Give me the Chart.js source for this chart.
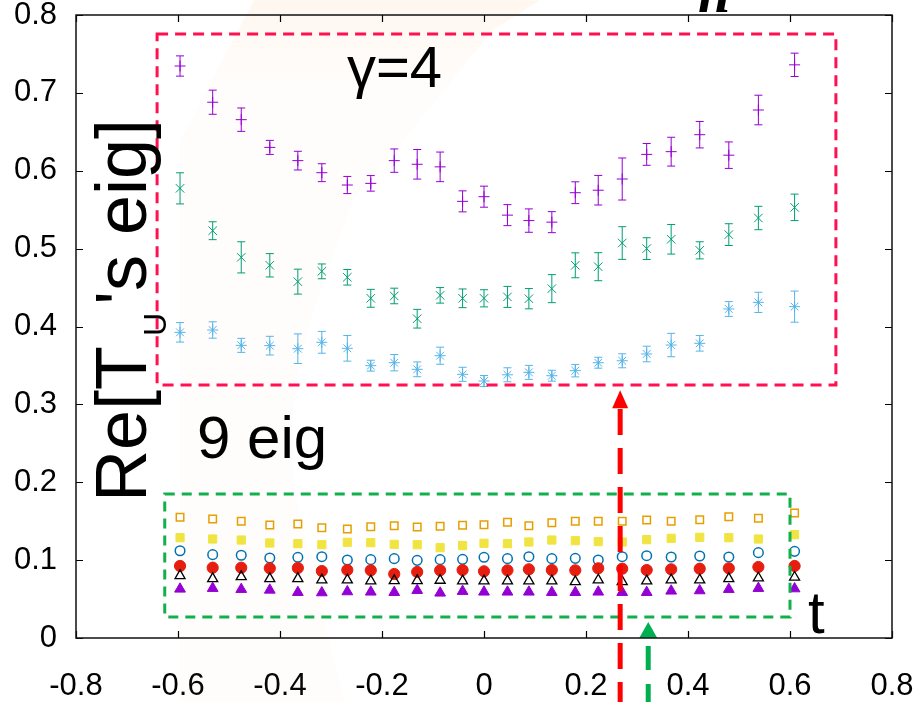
<!DOCTYPE html>
<html>
<head>
<meta charset="utf-8">
<script src="https://cdn.jsdelivr.net/npm/chart.js@4.4.1/dist/chart.umd.min.js"></script>
<style>
html, body { margin: 0; padding: 0; background: #fff; }
</style>
</head>
<body>
<canvas id="eigChart" width="919" height="702"></canvas>
<script>
// t positions (read off the picture, not evenly spaced)
const tVals = [-0.596, -0.532, -0.476, -0.420, -0.365, -0.318, -0.268, -0.222, -0.176, -0.131, -0.086, -0.042, 0,
    0.046, 0.088, 0.133, 0.179, 0.224, 0.271, 0.319, 0.367, 0.423, 0.480, 0.538, 0.609]

// upper group (gamma=4), with error bars
const purpleVals = [0.7345, 0.688, 0.6656, 0.630, 0.613, 0.5975, 0.5817, 0.5838, 0.613, 0.6083, 0.605, 0.5607, 0.5667,
    0.543, 0.536, 0.534, 0.5718, 0.575, 0.5894, 0.621, 0.6245, 0.6463, 0.620, 0.678, 0.736]
const purpleErr = [0.013, 0.0155, 0.015, 0.009, 0.012, 0.0115, 0.011, 0.010, 0.015, 0.019, 0.019, 0.0135, 0.0135,
    0.0135, 0.015, 0.0135, 0.014, 0.019, 0.027, 0.014, 0.0185, 0.017, 0.017, 0.019, 0.015]
const greenVals = [0.5774, 0.523, 0.4888, 0.4786, 0.4576, 0.4708, 0.4632, 0.4362, 0.4392, 0.410, 0.440, 0.4362, 0.4362,
    0.438, 0.4357, 0.4486, 0.4786, 0.4768, 0.5072, 0.500, 0.512, 0.4978, 0.518, 0.5393, 0.553]
const greenErr = [0.02, 0.0115, 0.02, 0.015, 0.016, 0.0095, 0.01, 0.0115, 0.01, 0.012, 0.01, 0.012, 0.011,
    0.0135, 0.013, 0.018, 0.016, 0.018, 0.021, 0.014, 0.019, 0.011, 0.014, 0.015, 0.017]
const blueVals = [0.3925, 0.3955, 0.3758, 0.3754, 0.3715, 0.3797, 0.372, 0.3497, 0.3535, 0.345, 0.3625, 0.3386, 0.330,
    0.338, 0.3411, 0.3368, 0.3433, 0.3535, 0.356, 0.3647, 0.3762, 0.3784, 0.4225, 0.431, 0.4255]
const blueErr = [0.0125, 0.0105, 0.009, 0.012, 0.019, 0.014, 0.0165, 0.007, 0.0105, 0.0095, 0.011, 0.009, 0.007,
    0.009, 0.009, 0.007, 0.008, 0.007, 0.009, 0.01, 0.015, 0.010, 0.0095, 0.013, 0.02]

// lower group (9 eig)
const orangeVals = [0.155, 0.1528, 0.1498, 0.1451, 0.1464, 0.1417, 0.140, 0.143, 0.1442, 0.1425, 0.1434, 0.1447, 0.1455,
    0.1485, 0.1442, 0.148, 0.150, 0.1498, 0.150, 0.1515, 0.1498, 0.152, 0.1558, 0.1537, 0.1605]
const yellowVals = [0.1288, 0.1271, 0.1258, 0.122, 0.1211, 0.1198, 0.1229, 0.1224, 0.1203, 0.1198, 0.116, 0.1186, 0.1216,
    0.1211, 0.1233, 0.1258, 0.125, 0.1237, 0.1233, 0.1263, 0.128, 0.1293, 0.1288, 0.1271, 0.1327]
const circleVals = [0.1121, 0.107, 0.1062, 0.1027, 0.1036, 0.1044, 0.1002, 0.1006, 0.1019, 0.0997, 0.1006, 0.101, 0.1036,
    0.1019, 0.1044, 0.1019, 0.1023, 0.1002, 0.1044, 0.1057, 0.104, 0.1053, 0.104, 0.1096, 0.1113]
const redVals = [0.0925, 0.0903, 0.0903, 0.0895, 0.0899, 0.086, 0.0873, 0.0869, 0.0822, 0.0848, 0.0869, 0.0873, 0.0856,
    0.0869, 0.0882, 0.0873, 0.0869, 0.0895, 0.089, 0.0873, 0.0882, 0.089, 0.0895, 0.0912, 0.0925]
const blackVals = [0.080, 0.0762, 0.0787, 0.0762, 0.0762, 0.0745, 0.0745, 0.0732, 0.0736, 0.0736, 0.074, 0.0732, 0.0732,
    0.0732, 0.0732, 0.0732, 0.0723, 0.0745, 0.0723, 0.0732, 0.0745, 0.0745, 0.0762, 0.077, 0.078]
const violetVals = [0.0629, 0.0638, 0.0625, 0.0616, 0.0586, 0.0582, 0.0595, 0.0591, 0.0586, 0.0612, 0.0578, 0.060, 0.0591,
    0.0591, 0.0591, 0.0586, 0.0586, 0.0591, 0.0586, 0.0586, 0.0604, 0.0608, 0.0625, 0.0638, 0.0633]

const xTicks = [-0.8, -0.6, -0.4, -0.2, 0, 0.2, 0.4, 0.6, 0.8]
const yTicks = [0, 0.1, 0.2, 0.3, 0.4, 0.5, 0.6, 0.7, 0.8]

const FONT = '"Liberation Sans", Arial, sans-serif'

function pts(vals) {
    return tVals.map((t, i) => ({ x: t, y: vals[i] }))
}

function point(label, vals, style, radius, color, filled, width, order) {
    return {
        label: label,
        data: pts(vals),
        pointStyle: style,
        pointRadius: radius,
        pointBorderColor: color,
        pointBackgroundColor: filled ? color : 'rgba(0,0,0,0)',
        pointBorderWidth: width,
        showLine: false,
        order: order
    }
}

const errorSets = [
    { vals: purpleVals, errs: purpleErr, color: '#9400d3' },
    { vals: greenVals, errs: greenErr, color: '#009e73' },
    { vals: blueVals, errs: blueErr, color: '#56b4e9' }
]

function fmtTick(v) {
    const r = Math.round(v * 10) / 10
    return r === 0 ? '0' : r.toFixed(1)
}

// keep the plot box where the picture has it: no extra room for label overhang
function noPad(s) {
    s.paddingLeft = 0
    s.paddingRight = 0
    s.paddingTop = 0
    s.paddingBottom = 0
}

const decor = {
    id: 'decor',
    beforeDatasetsDraw(chart) {
        const ctx = chart.ctx
        const x = chart.scales.x, y = chart.scales.y
        // faint watermark band behind the data
        const band = [[0.11, 0.819], [0.018, 0.781], [-0.125, 0.665], [-0.257, 0.562], [-0.341, 0.408],
            [-0.375, 0.306], [-0.375, 0.203], [-0.308, 0.01], [-0.273, -0.082], [-0.596, -0.082],
            [-0.596, 0.639], [-0.451, 0.819]]
        ctx.save()
        const g = ctx.createLinearGradient(0, 0, 0, 90)
        g.addColorStop(0, 'rgba(255,190,120,0.12)')
        g.addColorStop(1, 'rgba(255,200,170,0.035)')
        ctx.fillStyle = g
        ctx.beginPath()
        band.forEach((p, i) => {
            const px = x.getPixelForValue(p[0]), py = y.getPixelForValue(p[1])
            if (i === 0) ctx.moveTo(px, py)
            else ctx.lineTo(px, py)
        })
        ctx.closePath()
        ctx.fill()
        ctx.restore()
    },
    afterDatasetsDraw(chart) {
        const ctx = chart.ctx
        const x = chart.scales.x, y = chart.scales.y
        const area = chart.chartArea
        ctx.save()

        // error bars
        ctx.lineWidth = 1
        errorSets.forEach(s => {
            ctx.strokeStyle = s.color
            s.vals.forEach((v, i) => {
                const px = x.getPixelForValue(tVals[i])
                const top = y.getPixelForValue(v + s.errs[i])
                const bot = y.getPixelForValue(v - s.errs[i])
                ctx.beginPath()
                ctx.moveTo(px, top); ctx.lineTo(px, bot)
                ctx.moveTo(px - 4, top); ctx.lineTo(px + 4, top)
                ctx.moveTo(px - 4, bot); ctx.lineTo(px + 4, bot)
                ctx.stroke()
            })
        })

        // dashed boxes
        function box(t0, t1, v0, v1, color, dash) {
            ctx.strokeStyle = color
            ctx.lineWidth = 3
            ctx.setLineDash(dash)
            const l = x.getPixelForValue(t0), r = x.getPixelForValue(t1)
            const tp = y.getPixelForValue(v1), bt = y.getPixelForValue(v0)
            ctx.strokeRect(l, tp, r - l, bt - tp)
        }
        box(-0.641, 0.690, 0.325, 0.7755, '#ff1050', [11, 7])
        box(-0.626, 0.600, 0.027, 0.185, '#12b04c', [10, 7])

        // dashed arrows from below the axis
        function arrow(t, vFrom, vTip, len, half, color, dash) {
            const px = x.getPixelForValue(t)
            const tip = y.getPixelForValue(vTip)
            ctx.strokeStyle = color
            ctx.fillStyle = color
            ctx.lineWidth = 5
            ctx.setLineDash(dash)
            ctx.beginPath()
            ctx.moveTo(px, y.getPixelForValue(vFrom))
            ctx.lineTo(px, tip + len)
            ctx.stroke()
            ctx.setLineDash([])
            ctx.beginPath()
            ctx.moveTo(px, tip)
            ctx.lineTo(px - half, tip + len)
            ctx.lineTo(px + half, tip + len)
            ctx.closePath()
            ctx.fill()
        }
        arrow(0.267, -0.09, 0.318, 18, 8, '#ff0000', [26, 13])
        arrow(0.322, -0.09, 0.0205, 16, 9, '#00b050', [24, 14])

        ctx.setLineDash([])

        // inward tick marks on all four sides
        ctx.strokeStyle = '#000'
        ctx.lineWidth = 1.2
        ctx.beginPath()
        xTicks.forEach(v => {
            const px = Math.round(x.getPixelForValue(v)) + 0.5
            ctx.moveTo(px, area.bottom); ctx.lineTo(px, area.bottom - 7)
            ctx.moveTo(px, area.top); ctx.lineTo(px, area.top + 7)
        })
        yTicks.forEach(v => {
            const py = Math.round(y.getPixelForValue(v)) + 0.5
            ctx.moveTo(area.left, py); ctx.lineTo(area.left + 7, py)
            ctx.moveTo(area.right, py); ctx.lineTo(area.right - 7, py)
        })
        ctx.stroke()
        ctx.strokeStyle = '#111'
        ctx.lineWidth = 1.5
        ctx.strokeRect(area.left, area.top, area.right - area.left, area.bottom - area.top)

        // texts
        ctx.fillStyle = '#000'
        ctx.textBaseline = 'alphabetic'
        ctx.textAlign = 'left'
        ctx.font = '58px ' + FONT
        ctx.fillText('γ=4', 347, 87)
        ctx.font = '60px ' + FONT
        ctx.fillText('9 eig', 197, 458)
        ctx.fillText('t', 808, 633)
        ctx.font = 'italic bold 58px "Liberation Serif", serif'
        ctx.fillText('n', 698, 12)

        // y axis title with subscript
        ctx.save()
        ctx.translate(146, 502)
        ctx.rotate(-Math.PI / 2)
        ctx.font = '72px ' + FONT
        ctx.fillText('Re[T', 0, 0)
        let w = ctx.measureText('Re[T').width + 10
        ctx.font = '32px ' + FONT
        ctx.fillText('U', w, 20)
        w += ctx.measureText('U').width + 8
        ctx.font = '72px ' + FONT
        ctx.fillText("'s eig]", w, 0)
        ctx.restore()

        ctx.restore()
    }
}

new Chart(document.getElementById('eigChart').getContext('2d'), {
    type: 'scatter',
    data: {
        datasets: [
            point('purple', purpleVals, 'cross', 5.5, '#9400d3', false, 1, 3),
            point('green', greenVals, 'crossRot', 6, '#009e73', false, 1, 2),
            point('blue', blueVals, 'star', 5.5, '#56b4e9', false, 1, 1),
            point('orange', orangeVals, 'rect', 5.3, '#e69f00', false, 1.5, 9),
            point('yellow', yellowVals, 'rect', 5.8, '#f0e442', true, 1, 8),
            point('circle', circleVals, 'circle', 4.8, '#0072b2', false, 1.5, 7),
            point('red', redVals, 'circle', 5.6, '#e51e10', true, 1, 6),
            point('black', blackVals, 'triangle', 5.8, '#000000', false, 1.3, 5),
            point('violet', violetVals, 'triangle', 6.2, '#9400d3', true, 1, 4)
        ]
    },
    options: {
        responsive: false,
        animation: false,
        events: [],
        layout: { padding: { top: 15, right: 27, left: 0, bottom: 0 } },
        plugins: { legend: { display: false }, tooltip: { enabled: false } },
        scales: {
            x: {
                type: 'linear',
                min: -0.8,
                max: 0.8,
                afterFit: s => { s.height = 64; noPad(s) },
                afterBuildTicks: s => { s.ticks = xTicks.map(v => ({ value: v })) },
                grid: { display: false, drawTicks: false },
                border: { display: false },
                ticks: {
                    autoSkip: false,
                    maxRotation: 0,
                    padding: 30,
                    color: '#000',
                    font: { family: FONT, size: 31 },
                    callback: fmtTick
                }
            },
            y: {
                type: 'linear',
                min: 0,
                max: 0.8,
                afterFit: s => { s.width = 76; noPad(s) },
                afterBuildTicks: s => { s.ticks = yTicks.map(v => ({ value: v })) },
                grid: { display: false, drawTicks: false },
                border: { display: false },
                ticks: {
                    autoSkip: false,
                    padding: 19,
                    color: '#000',
                    font: { family: FONT, size: 31 },
                    callback: fmtTick
                }
            }
        }
    },
    plugins: [decor]
})
</script>
</body>
</html>
